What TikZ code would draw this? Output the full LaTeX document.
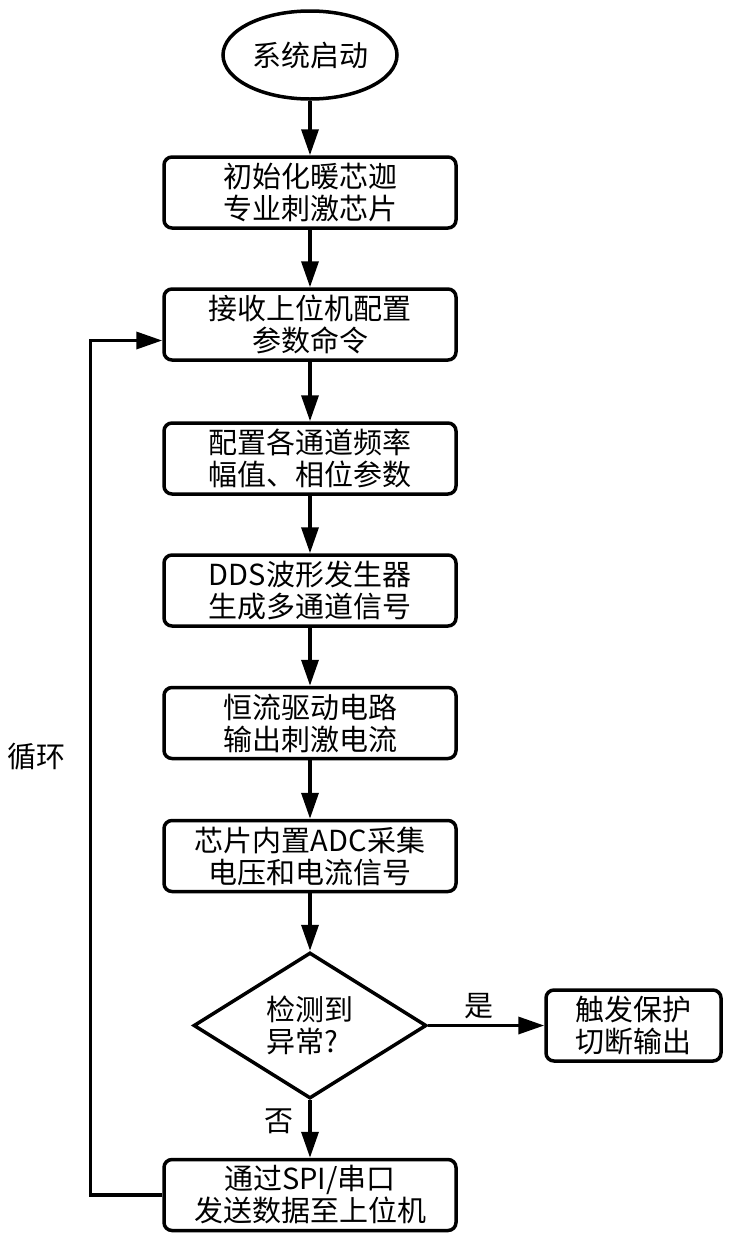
\documentclass[tikz,border=0pt]{standalone}
\usepackage{fontspec}
\setmainfont{Noto Sans CJK SC}
\usetikzlibrary{arrows.meta,shapes.geometric,calc}
\newcommand{\fsz}{\fontsize{29}{32}\selectfont}
\begin{document}
\begin{tikzpicture}[x=1pt,y=-1pt,
  every node/.style={font=\fsz},
  box/.style={draw, line width=3.5pt, rounded corners=8pt, minimum width=292pt, minimum height=71pt, align=center, inner sep=0pt},
  arr/.style={line width=3.5pt, -{Triangle[length=26pt,width=17pt]}},
  ]
\fill[white] (0,0) rectangle (729,1240);
\useasboundingbox (0,0) rectangle (729,1240);
\node[ellipse, draw, line width=3.5pt, minimum width=174pt, minimum height=88pt, inner sep=0pt] (s) at (310,55) {系统启动};
\node[box] (b1) at (310,192.5) {初始化暖芯迦\\专业刺激芯片};
\node[box] (b2) at (310,324.5) {接收上位机配置\\参数命令};
\node[box] (b3) at (310,458.5) {配置各通道频率\\幅值、相位参数};
\node[box] (b4) at (310,590.5) {DDS波形发生器\\生成多通道信号};
\node[box] (b5) at (310,723) {恒流驱动电路\\输出刺激电流};
\node[box] (b6) at (310,856) {芯片内置ADC采集\\电压和电流信号};
\node[diamond, draw, line width=3.5pt, minimum width=233pt, minimum height=146pt, inner sep=0pt, align=left] (d) at (310,1025.5) {检测到\\异常?};
\node[box, minimum width=175pt] (r) at (633.5,1025.5) {触发保护\\切断输出};
\node[box] (b7) at (310,1195) {通过SPI/串口\\发送数据至上位机};
\node (loop) at (37,757) {循环};
\node (yes) at (479,1006) {是};
\node (no) at (279,1121) {否};
\coordinate (in2) at ([yshift=-16pt]b2.west);
\draw[arr] (s) -- (b1);
\draw[arr] (b1) -- (b2);
\draw[arr] (b2) -- (b3);
\draw[arr] (b3) -- (b4);
\draw[arr] (b4) -- (b5);
\draw[arr] (b5) -- (b6);
\draw[arr] (b6) -- (d);
\draw[arr] (d) -- (r);
\draw[arr] (d) -- (b7);
\draw[arr] (b7.west) -- ++(-72,0) |- (in2);
\end{tikzpicture}
\end{document}
